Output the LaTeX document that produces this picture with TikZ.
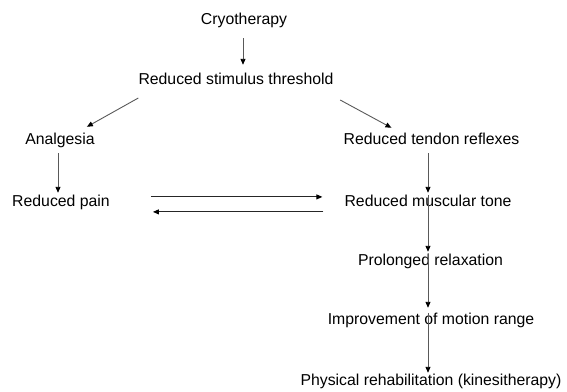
\documentclass[tikz,border=0pt]{standalone}
\usepackage{fontspec}
\setmainfont{Liberation Sans}
\usetikzlibrary{arrows.meta}
\begin{document}
\begin{tikzpicture}[x=1pt,y=-1pt,
  lbl/.style={anchor=base,inner sep=0pt,text height=11.5pt,text depth=3.3pt,font=\fontsize{15.8pt}{18pt}\selectfont},
  ln/.style={draw=black!65,line width=0.9pt,-{Triangle[length=6pt,width=5pt,fill=black,color=black]}},
  hln/.style={draw=black!85,line width=1pt,-{Triangle[length=6pt,width=5pt,fill=black,color=black]}}]
\useasboundingbox (0,0) rectangle (567,391);
\node[lbl] (cryo) at (244,24.5) {Cryotherapy};
\node[lbl] (rst) at (236,84.5) {Reduced stimulus threshold};
\node[lbl] (anal) at (60,144.5) {Analgesia};
\node[lbl] (tendon) at (431.5,144.5) {Reduced tendon reflexes};
\node[lbl] (pain) at (61,206.5) {Reduced pain};
\node[lbl] (tone) at (428,206.5) {Reduced muscular tone};
\node[lbl] (prol) at (430.5,265.5) {Prolonged relaxation};
\node[lbl] (impr) at (431,324.5) {Improvement of motion range};
\node[lbl] (phys) at (431,385.5) {Physical rehabilitation (kinesitherapy)};
\coordinate (vl) at (428,0);
\coordinate (cl) at (243,0);
\coordinate (al) at (58,0);
% top
\draw[ln,shorten <=10pt,shorten >=8pt] (cryo.south -| cl) -- (rst.north -| cl);
\draw[ln] ([shift={(0,10)}]rst.south west) -- ([shift={(-8,-6)}]anal.north east);
\draw[ln] ([shift={(6.5,12)}]rst.south east) -- ([shift={(48,-5)}]tendon.north west);
% left
\draw[ln,shorten <=5pt,shorten >=2pt] (anal.south -| al) -- (pain.north -| al);
% horizontal
\draw[hln] ([shift={(41,-5.5)}]pain.east) -- ([shift={(-22,-5.5)}]tone.west);
\draw[hln] ([shift={(-21,9.5)}]tone.west) -- ([shift={(43,9.5)}]pain.east);
% right column
\draw[ln,shorten <=5pt,shorten >=2pt] (tendon.south -| vl) -- (tone.north -| vl);
\draw[ln,shorten >=2pt] (tone.north -| vl) -- (prol.north -| vl);
\draw[ln,shorten >=5pt] (prol.north -| vl) -- (impr.north -| vl);
\draw[ln,shorten >=1pt] (impr.north -| vl) -- (phys.north -| vl);
\end{tikzpicture}
\end{document}
